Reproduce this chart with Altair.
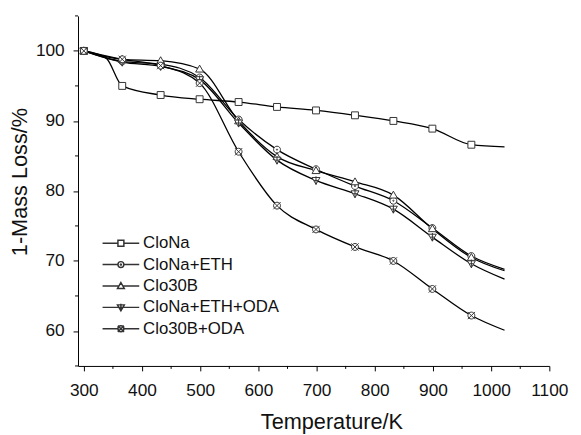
import altair as alt
import pandas as pd

# ---- data ----
series = ["CloNa", "CloNa+ETH", "Clo30B", "CloNa+ETH+ODA", "Clo30B+ODA"]
temps = [300, 366, 432, 499, 566, 632, 699, 766, 832, 899, 966]   # marker temperatures (K)
t_end = 1023                                                        # where the curves stop

clona = [100.0, 95.0, 93.7, 93.1, 92.7, 92.0, 91.5, 90.8, 90.0, 88.9, 86.6]
clona_eth = [100.0, 98.5, 98.1, 96.2, 90.2, 85.9, 83.1, 80.7, 78.6, 74.7, 70.7]
clo30b = [100.0, 98.8, 98.6, 97.4, 90.0, 84.9, 82.9, 81.3, 79.4, 74.6, 70.5]
clona_eth_oda = [100.0, 98.4, 97.8, 95.9, 89.7, 84.4, 81.5, 79.6, 77.4, 73.4, 69.6]
clo30b_oda = [100.0, 98.8, 97.9, 95.4, 85.6, 77.9, 74.5, 72.0, 70.0, 66.0, 62.2]

end_values = [86.3, 68.8, 68.6, 67.4, 60.1]          # curve value at t_end
extra_series = ["CloNa"]                              # extra curve points (no marker)
extra_t = [338]
extra_v = [99.0]

x_major = [300, 400, 500, 600, 700, 800, 900, 1000, 1100]
x_minor = [350, 450, 550, 650, 750, 850, 950, 1050]
y_major = [60, 70, 80, 90, 100]
y_minor = [55, 65, 75, 85, 95, 105]

values = [clona, clona_eth, clo30b, clona_eth_oda, clo30b_oda]

# ---- tables ----
marker_rows = []
for s, vals in zip(series, values):
    for t, v in zip(temps, vals):
        marker_rows.append({"series": s, "T": t, "v": v})
markers = pd.DataFrame(marker_rows)

line_rows = list(marker_rows)
for s, v in zip(series, end_values):
    line_rows.append({"series": s, "T": t_end, "v": v})
for s, t, v in zip(extra_series, extra_t, extra_v):
    line_rows.append({"series": s, "T": t, "v": v})
lines = pd.DataFrame(line_rows).sort_values(["series", "T"])

xminor_df = pd.DataFrame({"T": x_minor})
yminor_df = pd.DataFrame({"v": y_minor})

# ---- marker shapes ----
circ = "M-1,0A1,1,0,1,1,1,0A1,1,0,1,1,-1,0Z"
shapes = [
    "M-1,-1L1,-1L1,1L-1,1Z",
    circ + "M-0.18,0A0.18,0.18,0,1,1,0.18,0A0.18,0.18,0,1,1,-0.18,0Z",
    "M0,-1.15L1.15,0.85L-1.15,0.85Z",
    "M-1.15,-0.85L1.15,-0.85L0,1.15ZM0,-1.2L0,1.2M-0.6,0L0.6,0",
    circ + "M-1.05,-1.05L1.05,1.05M-1.05,1.05L1.05,-1.05",
]
half = [1, 1, 0.62, 0.62, 1]
leg_shapes = [
    f"M-6.2,0L-{h},0M{h},0L6.2,0" + p for p, h in zip(shapes, half)
]

FONT = "Liberation Sans"
W, H = 478, 355

x_scale = alt.Scale(domain=[290, 1100], nice=False, zero=False)
y_scale = alt.Scale(domain=[55, 105], nice=False, zero=False)

x_enc = alt.X(
    "T:Q",
    scale=x_scale,
    axis=alt.Axis(
        values=x_major,
        format="d",
        tickSize=5,
        grid=False,
        title="Temperature/K",
        titleX=257,
        titleY=63,
        titleBaseline="alphabetic",
        labelOverlap=False,
        labelFlush=False,
        labelPadding=11,
    ),
)
y_enc = alt.Y(
    "v:Q",
    scale=y_scale,
    axis=alt.Axis(
        values=y_major,
        format="d",
        tickSize=5,
        grid=False,
        title="1-Mass Loss/%",
        titleX=-52,
        titleY=168,
        titleBaseline="alphabetic",
        labelOverlap=False,
        labelFlush=False,
        labelPadding=9,
    ),
)

line_layer = alt.Chart(lines).mark_line(
    interpolate="monotone", color="black", strokeWidth=1.3
).encode(x=x_enc, y=y_enc, detail="series:N")

x_minor_layer = alt.Chart(xminor_df).mark_rule(color="black", strokeWidth=1).encode(
    x="T:Q", y=alt.value(H), y2=alt.value(H + 3)
)
y_minor_layer = alt.Chart(yminor_df).mark_rule(color="black", strokeWidth=1).encode(
    y="v:Q", x=alt.value(-3), x2=alt.value(0)
)

point_layer = alt.Chart(markers).mark_point(
    filled=True, fill="white", stroke="#333333", strokeWidth=1, size=49, opacity=1
).encode(
    x="T:Q",
    y="v:Q",
    shape=alt.Shape("series:N", scale=alt.Scale(domain=series, range=shapes), legend=None),
)

legend_layer = alt.Chart(markers).transform_filter("false").mark_point(
    filled=True, fill="white", stroke="#333333", strokeWidth=1, size=36, opacity=1
).encode(
    x="T:Q",
    y="v:Q",
    shape=alt.Shape(
        "series:N",
        scale=alt.Scale(domain=series, range=leg_shapes),
        legend=alt.Legend(
            orient="none",
            legendX=35,
            legendY=222,
            title=None,
            padding=0,
            labelFontSize=17,
            labelFont=FONT,
            labelColor="#111111",
            labelOffset=14,
            rowPadding=3.7,
            symbolSize=36,
        ),
    ),
)

chart = (
    alt.layer(line_layer, x_minor_layer, y_minor_layer, point_layer, legend_layer)
    .resolve_scale(shape="independent")
    .properties(
        width=W,
        height=H,
        autosize=alt.AutoSizeParams(type="none"),
        padding={"left": 71, "top": 5, "right": 24, "bottom": 67},
    )
    .configure_view(stroke=None)
    .configure_axis(
        domainColor="black",
        tickColor="black",
        labelColor="#111111",
        titleColor="#111111",
        labelFont=FONT,
        titleFont=FONT,
        labelFontSize=17.5,
        titleFontSize=22,
        titleFontWeight="normal",
        domainWidth=1,
        tickWidth=1,
    )
)

chart.save("out.html", embed_options={"renderer": "svg", "actions": False})
